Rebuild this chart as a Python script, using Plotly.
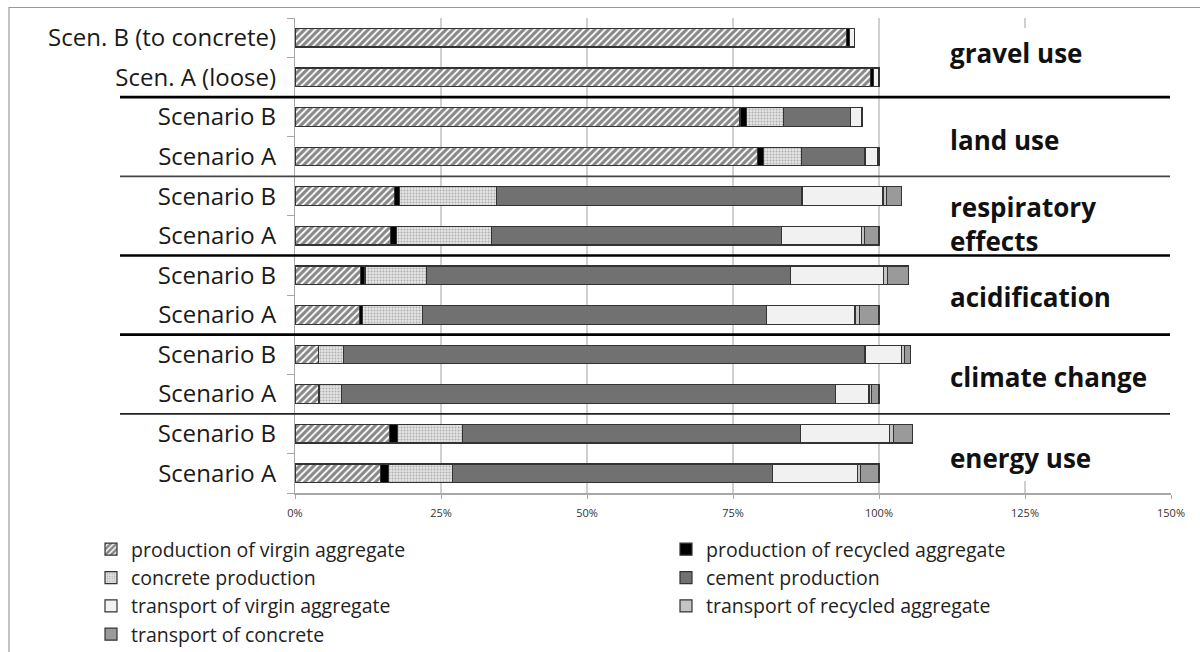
import plotly.graph_objects as go

# Rows, top to bottom
row_labels = ["Scen. B (to concrete)", "Scen. A (loose)",
              "Scenario B", "Scenario A",
              "Scenario B", "Scenario A",
              "Scenario B", "Scenario A",
              "Scenario B", "Scenario A",
              "Scenario B", "Scenario A"]

series_names = ["production of virgin aggregate", "production of recycled aggregate",
                "concrete production", "cement production",
                "transport of virgin aggregate", "transport of recycled aggregate",
                "transport of concrete"]

virgin_prod        = [94.4, 98.5, 76.2, 79.2, 17.1, 16.4, 11.2, 11.0, 4.0, 4.0, 16.2, 14.6]
recycled_prod      = [0.6, 0.6, 1.1, 1.0, 0.8, 1.0, 0.8, 0.5, 0.0, 0.2, 1.4, 1.4]
concrete_prod      = [0.0, 0.0, 6.4, 6.5, 16.6, 16.2, 10.5, 10.3, 4.3, 3.7, 11.1, 10.9]
cement_prod        = [0.0, 0.0, 11.4, 10.9, 52.3, 49.7, 62.3, 59.0, 89.3, 84.7, 57.9, 54.8]
transport_virgin   = [0.8, 0.9, 2.0, 2.1, 13.9, 13.7, 16.0, 15.1, 6.3, 5.7, 15.2, 14.6]
transport_recycled = [0.0, 0.0, 0.0, 0.3, 0.6, 0.5, 0.7, 0.7, 0.4, 0.4, 0.7, 0.5]
transport_concrete = [0.0, 0.0, 0.0, 0.0, 2.6, 2.5, 3.5, 3.4, 1.1, 1.3, 3.2, 3.2]

group_labels = ["gravel use", "land use", "respiratory<br>effects",
                "acidification", "climate change", "energy use"]

x_ticks = [0, 25, 50, 75, 100, 125, 150]

n = len(row_labels)
ypos = [n - 1 - i for i in range(n)]

series_values = [virgin_prod, recycled_prod, concrete_prod, cement_prod,
                 transport_virgin, transport_recycled, transport_concrete]

styles = [
    dict(color="white", pattern=dict(shape="/", fgcolor="#111111", bgcolor="white", size=5, solidity=0.65)),
    dict(color="black"),
    dict(color="#e2e2e2", pattern=dict(shape=".", fgcolor="#777777", bgcolor="#e4e4e4", size=3, solidity=0.35)),
    dict(color="#717171"),
    dict(color="#f1f1f1"),
    dict(color="#c4c4c4"),
    dict(color="#9a9a9a"),
]

fig = go.Figure()
for name, vals, st in zip(series_names, series_values, styles):
    marker = dict(st)
    marker["line"] = dict(color="#333333", width=1.2)
    fig.add_trace(go.Bar(y=ypos, x=vals, name=name, orientation="h",
                         width=0.47, marker=marker))

W, H = 1200, 652
L, R, T, B = 295, 29, 18, 159
pw, ph = W - L - R, H - T - B

def px_x(p):
    return (p - L) / pw

def px_y(p):
    return (H - B - p) / ph

shapes = []
# outer frame
shapes.append(dict(type="rect", xref="paper", yref="paper",
                   x0=px_x(9), x1=px_x(1210), y0=px_y(7.5), y1=px_y(670),
                   line=dict(color="#9a9a9a", width=1.2), fillcolor="rgba(0,0,0,0)", layer="below"))
# white box hiding gridlines behind group labels
shapes.append(dict(type="rect", xref="x", yref="paper",
                   x0=106.5, x1=149.7, y0=px_y(481), y1=px_y(28),
                   line=dict(width=0), fillcolor="white", layer="above"))
# group separators
seps = [(9.5, 2.6, "#000000"), (7.5, 1.6, "#444444"), (5.5, 2.6, "#000000"),
        (3.5, 2.6, "#000000"), (1.5, 1.8, "#222222")]
for yv, lw, c in seps:
    shapes.append(dict(type="line", xref="paper", yref="y",
                       x0=px_x(120), x1=px_x(1170), y0=yv, y1=yv,
                       line=dict(color=c, width=lw), layer="above"))

annotations = []
label_y = [53, 140, 224, 297, 377, 458]
for txt, yy in zip(group_labels, label_y):
    annotations.append(dict(text="<b>" + txt + "</b>", xref="paper", yref="paper",
                            x=px_x(948), y=px_y(yy), xanchor="left", yanchor="middle",
                            align="left", showarrow=False,
                            font=dict(family="Open Sans", size=26, color="#111111")))

fig.update_layout(
    width=W, height=H,
    margin=dict(l=L, r=R, t=T, b=B, autoexpand=False),
    paper_bgcolor="white", plot_bgcolor="white",
    barmode="stack",
    showlegend=True,
    legend=dict(orientation="h", x=px_x(91), y=px_y(530), xanchor="left", yanchor="top",
                entrywidth=530, entrywidthmode="pixels",
                font=dict(family="Open Sans", size=19.5, color="#222222"),
                traceorder="normal", itemwidth=30, tracegroupgap=0,
                bgcolor="rgba(0,0,0,0)"),
    shapes=shapes,
    annotations=annotations,
    font=dict(family="Open Sans"),
)

fig.update_xaxes(range=[0, 150], tickvals=x_ticks, ticktext=[f"{v}%" for v in x_ticks],
                 showgrid=True, gridcolor="#d0d0d0", gridwidth=1.5,
                 showline=True, linecolor="#a8a8a8", linewidth=1.5,
                 ticks="outside", ticklen=4, tickcolor="#a8a8a8",
                 ticklabelstandoff=5,
                 tickfont=dict(family="Open Sans", size=11, color="#333333"),
                 zeroline=False, fixedrange=True)

fig.update_yaxes(range=[-0.5, n - 0.5], tickvals=ypos, ticktext=row_labels,
                 showgrid=False, zeroline=False,
                 showline=True, linecolor="#a8a8a8", linewidth=1.2,
                 ticks="outside", ticklen=0, ticklabelstandoff=13,
                 minor=dict(tick0=0.5, dtick=1, ticks="outside", ticklen=7,
                            tickcolor="#a8a8a8", showgrid=False),
                 tickfont=dict(family="Open Sans", size=24, color="#1a1a1a"),
                 fixedrange=True)

fig.write_html("out.html", config={"displayModeBar": False},
               post_script="document.body.style.margin='0';document.body.style.overflow='hidden';")
